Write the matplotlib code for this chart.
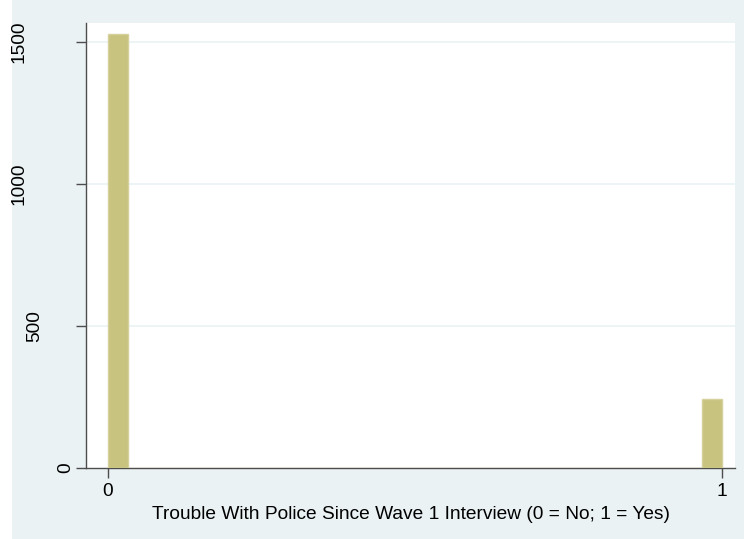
import matplotlib
matplotlib.use("Agg")
import matplotlib.pyplot as plt
from matplotlib.patches import Rectangle

# Responses: trouble with police since wave 1 (0 = No, 1 = Yes)
responses = [0, 1]
counts = [1527, 242]
n_bins = 30

y_ticks = [0, 500, 1000, 1500]
x_ticks = [0, 1]
x_label = "Trouble With Police Since Wave 1 Interview (0 = No; 1 = Yes)"

REGION = "#EAF2F3"
BAR_FILL = "#C9C380"
BAR_EDGE = "#D6D19C"
AXIS = "#4D4D4D"
FONT_SIZE = 13.8

W, H = 744, 539
PLOT_LEFT, PLOT_RIGHT, PLOT_TOP, PLOT_BOTTOM = 86, 735, 23, 468

plt.rcParams["font.family"] = ["Liberation Sans", "DejaVu Sans"]

fig = plt.figure(figsize=(W / 100, H / 100), dpi=100, facecolor=REGION)
# narrow white strip on the left edge of the graph region
fig.patches.append(Rectangle((0, 0), 12 / W, 1, transform=fig.transFigure,
                             facecolor="white", edgecolor="none", zorder=-5))

ax = fig.add_axes([PLOT_LEFT / W, 1 - PLOT_BOTTOM / H,
                   (PLOT_RIGHT - PLOT_LEFT) / W, (PLOT_BOTTOM - PLOT_TOP) / H])
ax.set_facecolor("white")

ax.hist(responses, bins=n_bins, range=(0, 1), weights=counts,
        color=BAR_FILL, edgecolor=BAR_EDGE, linewidth=1.0, zorder=3)

ax.set_xlim(-0.0358, 1.021)
ax.set_ylim(0, 1567)

ax.set_xticks(x_ticks)
ax.set_yticks(y_ticks)
ax.set_yticklabels([])
for t in y_ticks[1:]:
    ax.axhline(t, color=REGION, linewidth=1.2, zorder=1)

# rotated y labels, shifted left according to their length
for t in y_ticks:
    s = str(t)
    cx = 66 - 15.6 * (len(s) - 1)
    ax.text((cx - PLOT_LEFT) / (PLOT_RIGHT - PLOT_LEFT), t, s,
            transform=ax.get_yaxis_transform(), rotation=90,
            ha="center", va="center", fontsize=FONT_SIZE, color="black",
            zorder=10)

ax.tick_params(axis="both", length=7, width=1, color=AXIS, labelsize=FONT_SIZE,
               labelcolor="black")
ax.tick_params(axis="x", pad=4)

for side in ("top", "right"):
    ax.spines[side].set_visible(False)
for side in ("left", "bottom"):
    ax.spines[side].set_color(AXIS)
    ax.spines[side].set_linewidth(1.0)

ax.set_xlabel(x_label, fontsize=FONT_SIZE, labelpad=4)

fig.savefig("out.png", dpi=100, facecolor=REGION)
